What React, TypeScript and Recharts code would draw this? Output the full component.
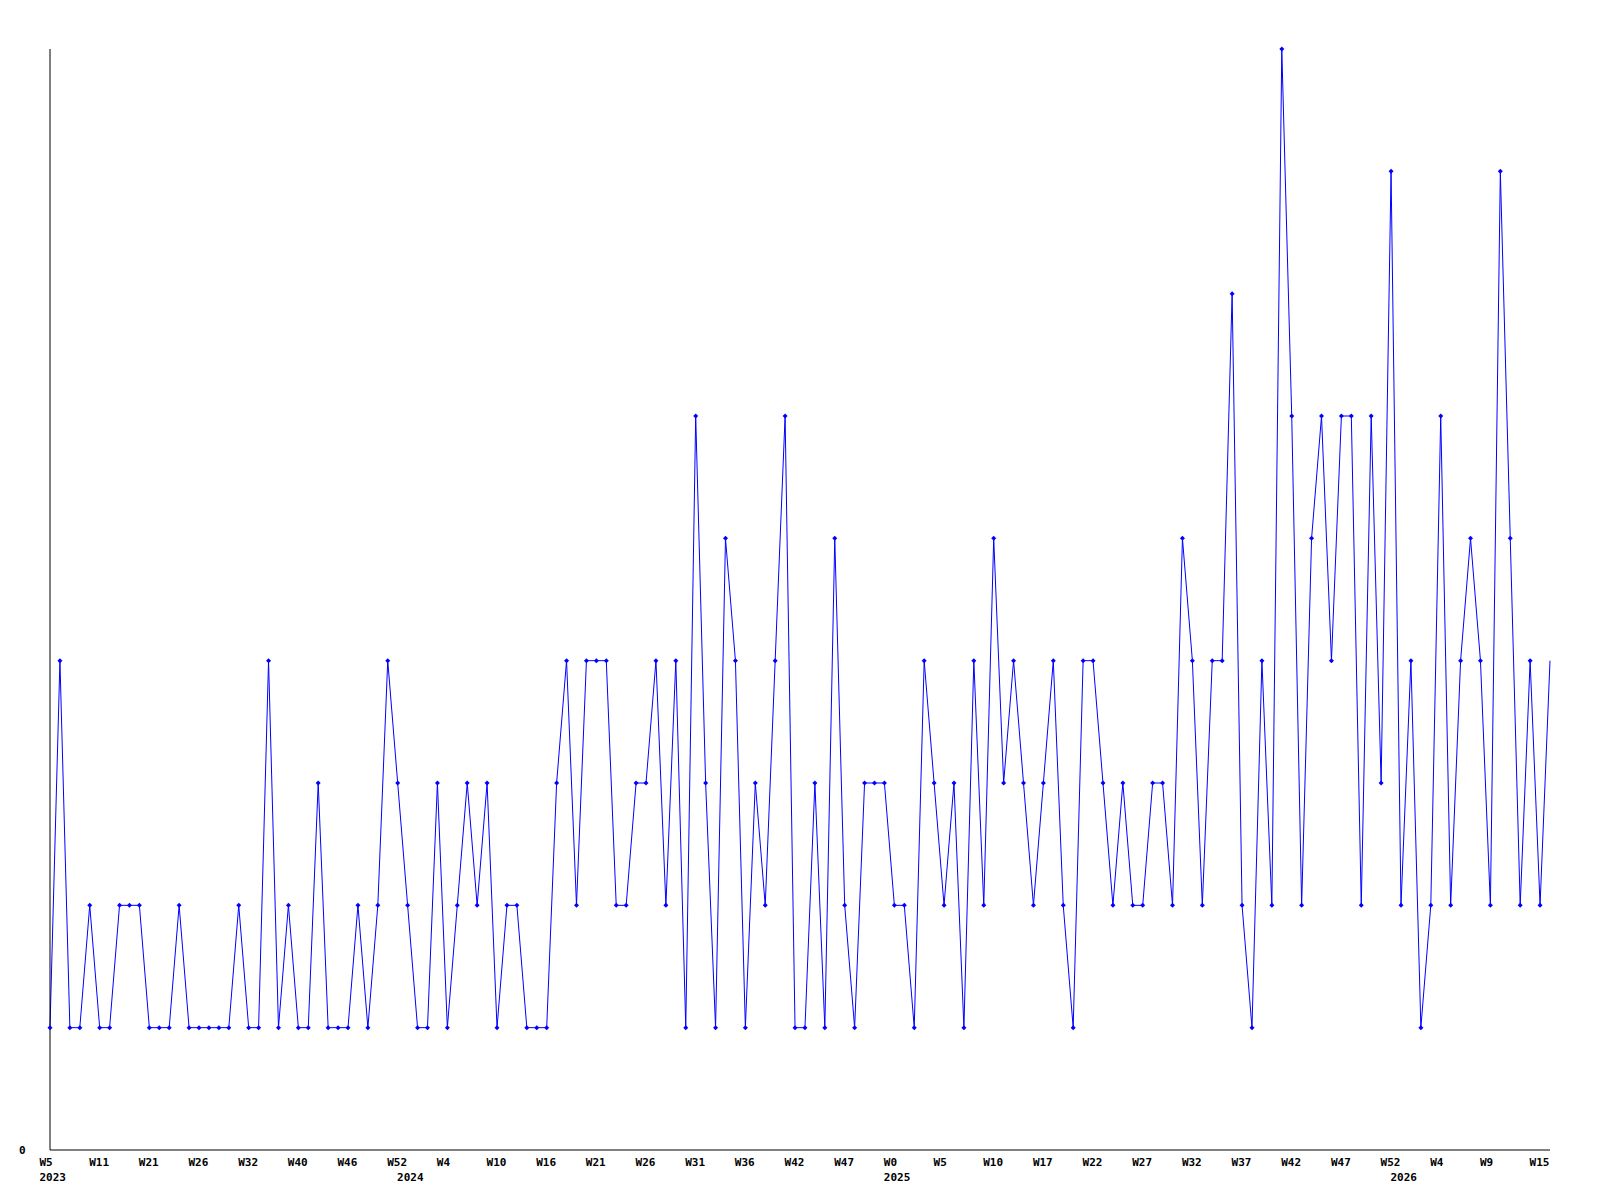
import React from "react"
import { LineChart, Line, XAxis, YAxis } from "recharts"

// weekly counts, one per point
const weekValues = [
  1, 4, 1, 1, 2, 1, 1, 2, 2, 2,
  1, 1, 1, 2, 1, 1, 1, 1, 1, 2,
  1, 1, 4, 1, 2, 1, 1, 3, 1, 1,
  1, 2, 1, 2, 4, 3, 2, 1, 1, 3,
  1, 2, 3, 2, 3, 1, 2, 2, 1, 1,
  1, 3, 4, 2, 4, 4, 4, 2, 2, 3,
  3, 4, 2, 4, 1, 6, 3, 1, 5, 4,
  1, 3, 2, 4, 6, 1, 1, 3, 1, 5,
  2, 1, 3, 3, 3, 2, 2, 1, 4, 3,
  2, 3, 1, 4, 2, 5, 3, 4, 3, 2,
  3, 4, 2, 1, 4, 4, 3, 2, 3, 2,
  2, 3, 3, 2, 5, 4, 2, 4, 4, 7,
  2, 1, 4, 2, 9, 6, 2, 5, 6, 4,
  6, 6, 2, 6, 3, 8, 2, 4, 1, 2,
  6, 2, 4, 5, 4, 2, 8, 5, 2, 4,
  2, 4,
]

// a week label every 5th point
const weekTickLabels = [
  "W5", "W11", "W21", "W26", "W32", "W40", "W46", "W52", "W4", "W10",
  "W16", "W21", "W26", "W31", "W36", "W42", "W47", "W0", "W5", "W10",
  "W17", "W22", "W27", "W32", "W37", "W42", "W47", "W52", "W4", "W9", "W15",
]

const yearTickIndex = [0, 36, 85, 136]
const yearTickLabels = ["2023", "2024", "2025", "2026"]

const data = weekValues.map((v, i) => ({ i, v }))

const font = {
  fontFamily: "'DejaVu Sans Mono', monospace",
  fontWeight: "bold",
  fontSize: 11,
  fill: "#000",
}

const WeekTick = (props: any) => {
  const { x, payload } = props
  const idx = payload.value as number
  const week = idx % 5 === 0 ? weekTickLabels[idx / 5] : undefined
  const yi = yearTickIndex.indexOf(idx)
  return (
    <g>
      {week && (
        <text x={x - 10.5} y={1166} textAnchor="start" {...font}>
          {week}
        </text>
      )}
      {yi >= 0 && (
        <text x={x - 10.5} y={1181} textAnchor="start" {...font}>
          {yearTickLabels[yi]}
        </text>
      )}
    </g>
  )
}

const ZeroTick = (props: any) => {
  const { y, payload } = props
  return (
    <text x={19} y={y} dy={4} textAnchor="start" {...font}>
      {payload.value}
    </text>
  )
}

const Diamond = (props: any) => {
  const { cx, cy, index } = props
  if (index === weekValues.length - 1 || cx == null) return <g key={index} />
  const r = 2.5
  return (
    <polygon
      key={index}
      points={`${cx},${cy - r} ${cx + r},${cy} ${cx},${cy + r} ${cx - r},${cy}`}
      fill="#0000ff"
      stroke="none"
    />
  )
}

export default function App() {
  return (
    <div style={{ position: "absolute", left: 0, top: 0, width: 1600, height: 1200, background: "#fff" }}>
      <LineChart width={1600} height={1200} data={data} margin={{ top: 49, right: 50, bottom: 0, left: 0 }}>
        <XAxis
          dataKey="i"
          type="category"
          scale="point"
          height={50}
          interval={0}
          tickLine={false}
          axisLine={{ stroke: "#000", strokeWidth: 1 }}
          tick={<WeekTick />}
        />
        <YAxis
          width={50}
          domain={[0, 9]}
          ticks={[0]}
          tickLine={false}
          axisLine={{ stroke: "#000", strokeWidth: 1 }}
          tick={<ZeroTick />}
        />
        <Line
          type="linear"
          dataKey="v"
          stroke="#0000ff"
          strokeWidth={1}
          dot={<Diamond />}
          activeDot={false}
          isAnimationActive={false}
        />
      </LineChart>
    </div>
  )
}
